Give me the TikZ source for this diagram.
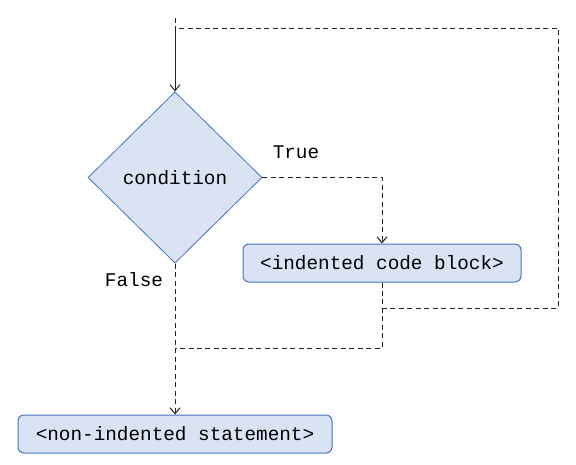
\documentclass[tikz,border=0pt]{standalone}
\usepackage{fontspec}
\setmonofont{Liberation Mono}
\usetikzlibrary{shapes.geometric,arrows.meta}
\definecolor{boxfill}{HTML}{DAE3F3}
\definecolor{boxline}{HTML}{4472C4}
\definecolor{lineclr}{HTML}{222222}
\tikzset{
  codebox/.style={draw=boxline, fill=boxfill, line width=0.75pt, rounded corners=4.5pt, inner sep=0pt, font=\ttfamily\fontsize{14.5}{16}\selectfont},
  decision/.style={diamond, draw=boxline, fill=boxfill, line width=0.6pt, inner sep=0pt, minimum width=130.5pt, minimum height=128.5pt, font=\ttfamily\fontsize{14.5}{16}\selectfont},
  lbl/.style={font=\ttfamily\fontsize{14.5}{16}\selectfont, inner sep=0pt},
  flow/.style={draw=lineclr, line width=0.75pt, dash pattern=on 3.75pt off 2.6pt},
  solidflow/.style={draw=lineclr, line width=0.75pt},
  tip/.style={-{Straight Barb[length=4.5pt,width=7.5pt]}}
}
\begin{document}
\begin{tikzpicture}[x=0.75pt,y=-0.75pt]
\useasboundingbox (0,0) rectangle (576,465);
\node[decision] (cond) at (175,177.5) {condition};
\node[codebox, minimum width=208.5pt, minimum height=28.5pt] (code) at (382,263) {<indented code block>};
\node[codebox, minimum width=235.5pt, minimum height=28.5pt] (stmt) at (175,434) {<non-indented statement>};
\node[lbl] (true) at (296,152) {True};
\node[lbl] (false) at (134,280) {False};
\coordinate (start) at (175,18);
\coordinate (corner) at (175,28);
\coordinate (tr) at (558,28);
\coordinate (br) at (558,308);
\coordinate (loopstart) at (382,308);
\coordinate (trueturn) at (382,177.5);
\coordinate (merge) at (175,348);
\coordinate (mergecorner) at (382,348);
% entry
\draw[flow] (start) -- (corner);
\draw[solidflow, tip] (corner) -- (cond.north);
% true branch
\draw[flow, tip] (cond.east) -- (trueturn) -- (code.south |- code.north);
% loop back
\draw[flow] (code.south) -- (loopstart) -- (br) -- (tr) -- (corner);
% code block to merge
\draw[flow] (code.south) -- (mergecorner) -- (merge);
% false branch
\draw[flow, tip] (cond.south) -- (stmt.north);
\end{tikzpicture}
\end{document}
